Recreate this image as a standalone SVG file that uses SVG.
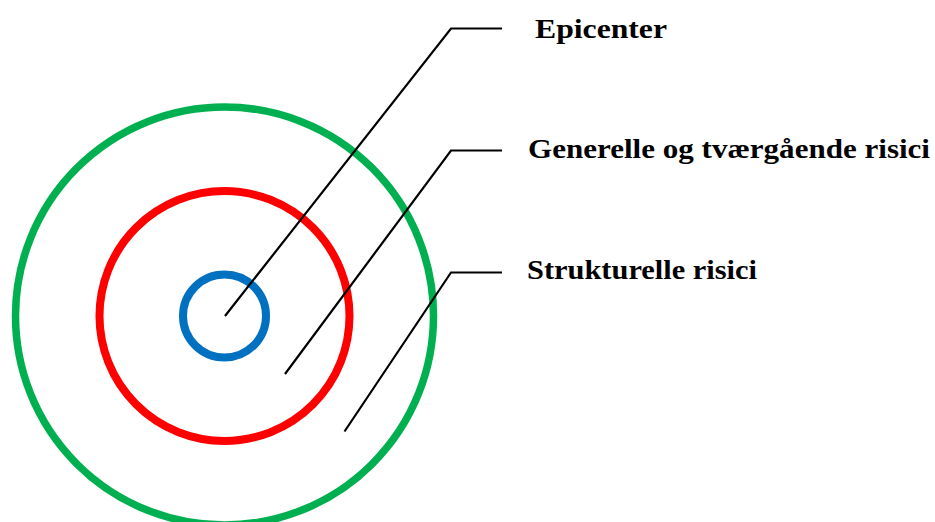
<svg xmlns="http://www.w3.org/2000/svg" width="935" height="522" viewBox="0 0 935 522">
  <style>
    .ring { fill: none; }
    .leader { fill: none; stroke: #000; stroke-width: 2.2; }
    .label { font-family: "Liberation Serif", "Times New Roman", serif; font-weight: bold; font-size: 28px; fill: #000; }
  </style>
  <rect width="935" height="522" fill="#fff"/>

  <!-- concentric risk zones -->
  <g id="zone-structural">
    <circle class="ring" cx="224.5" cy="316" r="209" stroke="#00b050" stroke-width="7.5"/>
  </g>
  <g id="zone-general">
    <circle class="ring" cx="224.5" cy="316" r="125" stroke="#ff0000" stroke-width="8"/>
  </g>
  <g id="zone-epicenter">
    <circle class="ring" cx="224.5" cy="316" r="41.5" stroke="#0070c0" stroke-width="8"/>
  </g>

  <!-- leader lines -->
  <g id="connectors">
    <polyline class="leader" points="225,316 451,28.5 502,28.5"/>
    <polyline class="leader" points="285,374 451,150.5 502,150.5"/>
    <polyline class="leader" points="344.5,431.5 451,272.5 502,272.5"/>
  </g>

  <!-- labels -->
  <g id="label-epicenter">
    <text class="label" x="535" y="38" textLength="132" lengthAdjust="spacingAndGlyphs">Epicenter</text>
  </g>
  <g id="label-general">
    <text class="label" x="528" y="158" textLength="402" lengthAdjust="spacingAndGlyphs">Generelle og tværgående risici</text>
  </g>
  <g id="label-structural">
    <text class="label" x="527" y="279" textLength="230" lengthAdjust="spacingAndGlyphs">Strukturelle risici</text>
  </g>
</svg>
